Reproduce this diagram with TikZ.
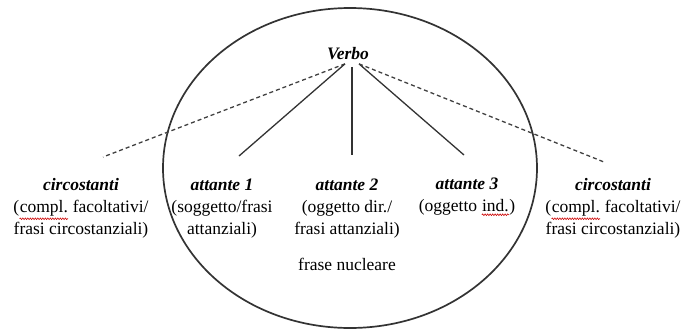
\documentclass[tikz,border=0pt]{standalone}
\usepackage{fontspec}
\setmainfont{Liberation Serif}
\usetikzlibrary{%
  positioning,% wg. " of "
  calc,%
  decorations.pathmorphing% wg. snake
}

% rote Wellenlinie der Rechtschreibpruefung
\newcommand{\spellwave}[1]{%
  \tikz[baseline=(sword.base)]{%
    \node[inner sep=0pt] (sword) {#1};
    \draw[red!80!black, line width=0.6pt, decorate,
      decoration={snake, amplitude=0.8pt, segment length=2.5pt}]
      ([yshift=-2.5pt]sword.south west) -- ([yshift=-2.5pt]sword.south east);}%
}

\begin{document}
\begin{tikzpicture}
  [
  x=1pt, y=-1pt,
  font=\fontsize{17.5}{22}\selectfont,
  line width=1.3pt, draw=black!80,
  headnode/.style={inner sep=0pt, font=\fontsize{17.5}{22}\selectfont\bfseries\itshape},
  colnode/.style={align=center, anchor=north, inner sep=0pt},
  link/.style={draw=black!80, line width=1.3pt},
  extralink/.style={draw=black!75, line width=1.3pt, dash pattern=on 4pt off 3pt},
  ]
  \useasboundingbox (0,0) rectangle (697,330);

  % frase nucleare
  \draw[line width=1.7pt, black!80] (350,168) ellipse [x radius=187, y radius=160];
  \node (nucleo) at (347,264) {frase nucleare};

  \node[headnode] (verbo) at (348,54) {Verbo};

  % colonne
  \node[colnode] (circL) at (81,178) {\textbf{\textit{circostanti}}\\(\spellwave{compl.} facoltativi/\\frasi circostanziali)};
  \node[colnode] (att1) at (222,178) {\textbf{\textit{attante 1}}\\(soggetto/frasi\\attanziali)};
  \node[colnode] (att2) at (347,178) {\textbf{\textit{attante 2}}\\(oggetto dir./\\frasi attanziali)};
  \node[colnode] (att3) at (467,178) {\textbf{\textit{attante 3}}\\(oggetto \spellwave{ind.})};
  \node[colnode] (circR) at (613,178) {\textbf{\textit{circostanti}}\\(\spellwave{compl.} facoltativi/\\frasi circostanziali)};

  \coordinate (eL) at (103,157);
  \coordinate (e1) at (239,156);
  \coordinate (e2) at (352,155);
  \coordinate (e3) at (464,155);
  \coordinate (eR) at (604,162);

  \draw[extralink] ([xshift=-3pt,yshift=-3pt]verbo.south) -- (eL);
  \draw[link] ([xshift=-3pt,yshift=-3pt]verbo.south) -- (e1);
  \draw[link] ([xshift=4pt,yshift=-6pt]verbo.south) -- (e2);
  \draw[link] ([xshift=11pt,yshift=-3pt]verbo.south) -- (e3);
  \draw[extralink] ([xshift=11pt,yshift=-3pt]verbo.south) -- (eR);

\end{tikzpicture}
\end{document}
